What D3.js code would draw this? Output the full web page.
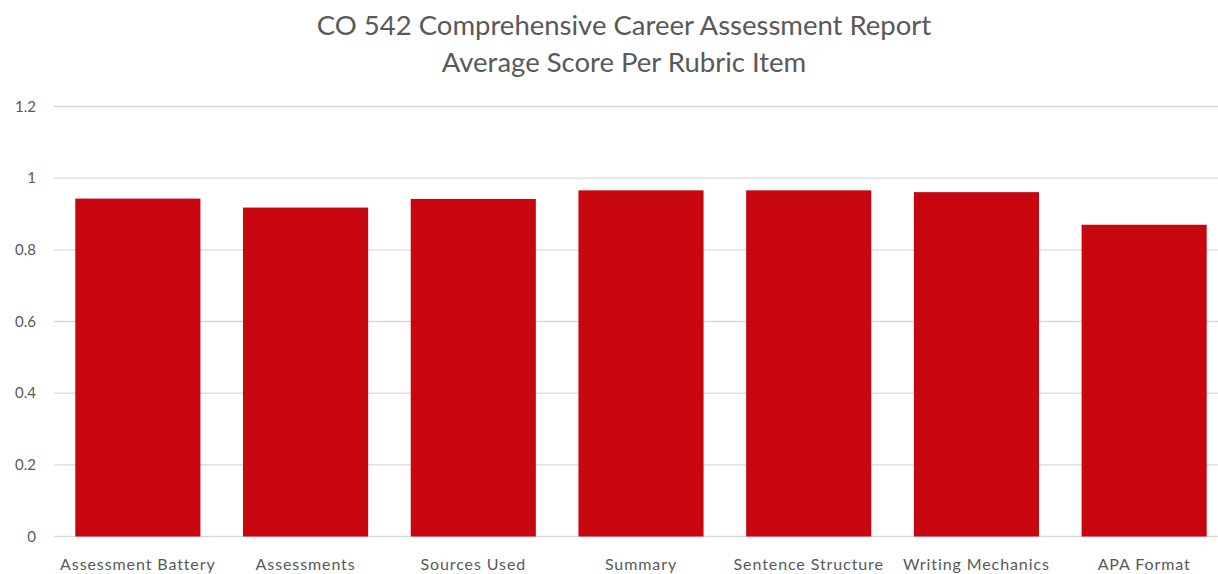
<!DOCTYPE html>
<html>
<head>
<script src="https://d3js.org/d3.v7.min.js"></script>
<style>
body { margin:0; background:#fff; }
text { font-family: Lato, "Open Sans", sans-serif; fill:#595959; }
</style>
</head>
<body>
<svg width="1218" height="574"></svg>
<script>
var categories = ["Assessment Battery", "Assessments", "Sources Used", "Summary", "Sentence Structure", "Writing Mechanics", "APA Format"];
var scores = [0.943, 0.918, 0.942, 0.966, 0.966, 0.961, 0.87];
var yTicks = [0, 0.2, 0.4, 0.6, 0.8, 1, 1.2];
var titleLines = ["CO 542 Comprehensive Career Assessment Report", "Average Score Per Rubric Item"];

var svg = d3.select("svg");
var plotLeft = 54, plotRight = 1228, plotTop = 106.5, plotBottom = 536.5;

var x = d3.scaleBand().domain(categories).range([plotLeft, plotRight]).paddingInner(0.254).paddingOuter(0.127);
var y = d3.scaleLinear().domain([0, 1.2]).range([plotBottom, plotTop]);

// gridlines
svg.append("g").selectAll("line").data(yTicks).enter().append("line")
    .attr("x1", plotLeft).attr("x2", 1218)
    .attr("y1", function(d) { return y(d); })
    .attr("y2", function(d) { return y(d); })
    .attr("stroke", "#d9d9d9").attr("stroke-width", 1.3);

// y labels
var yaxis = d3.axisLeft(y).tickValues(yTicks).tickSize(0).tickPadding(18)
    .tickFormat(function(d) { return d3.format("~g")(d); });
var yg = svg.append("g").attr("transform", "translate(" + plotLeft + ",0)").call(yaxis);
yg.select(".domain").remove();
yg.selectAll("text").style("font-size", "15px").style("fill", "#595959")
    .style("font-family", "Lato, sans-serif");

// bars
svg.append("g").selectAll("rect").data(scores).enter().append("rect")
    .attr("x", function(d, i) { return x(categories[i]); })
    .attr("width", x.bandwidth())
    .attr("y", function(d) { return y(d); })
    .attr("height", function(d) { return y(0) - y(d); })
    .attr("fill", "#c7060f");

// x labels
var xaxis = d3.axisBottom(x).tickSize(0).tickPadding(22);
var xg = svg.append("g").attr("transform", "translate(0," + plotBottom + ")").call(xaxis);
xg.select(".domain").remove();
xg.selectAll("text").style("font-size", "16px").style("fill", "#595959")
    .style("letter-spacing", "0.9px")
    .style("font-family", "Lato, sans-serif");

// title
svg.selectAll("text.title").data(titleLines).enter().append("text")
    .attr("class", "title")
    .attr("x", 624)
    .attr("y", function(d, i) { return 35 + i * 37; })
    .attr("text-anchor", "middle")
    .style("font-size", "27.5px")
    .text(function(d) { return d; });
</script>
</body>
</html>
